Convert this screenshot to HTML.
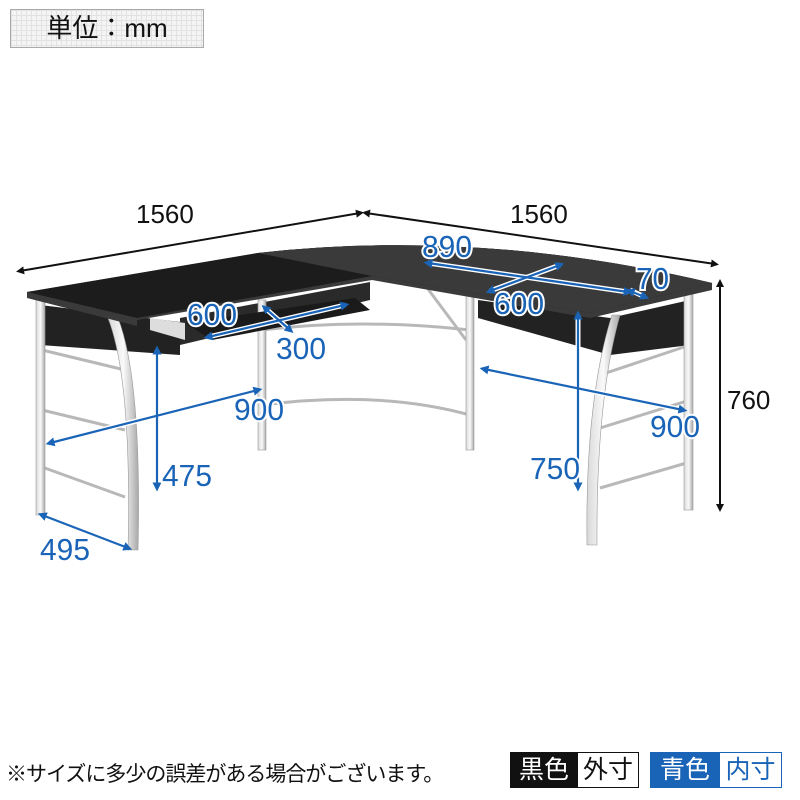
<!DOCTYPE html>
<html><head><meta charset="utf-8"><style>
html,body{margin:0;padding:0;background:#fff;}
body{width:800px;height:800px;position:relative;overflow:hidden;font-family:"Liberation Sans","Noto Sans CJK JP",sans-serif;}
.unit{position:absolute;left:10px;top:9px;width:192px;height:37px;border:1px solid #aaa;background:#f4f4f4;
background-image:linear-gradient(#e2e2e2 1px,transparent 1px),linear-gradient(90deg,#e2e2e2 1px,transparent 1px);background-size:5px 5px;
font-size:26px;line-height:37px;text-align:center;color:#111;}
.note{position:absolute;left:6px;top:758px;font-size:21px;color:#111;letter-spacing:-1px;}
.tag{position:absolute;top:752px;height:34px;font-size:25px;line-height:34px;}
</style></head><body>
<div class="unit">単位：mm</div>
<svg width="800" height="800" style="position:absolute;left:0;top:0">
<defs>
<marker id="ab" markerWidth="8" markerHeight="8" refX="4" refY="4" orient="auto-start-reverse" markerUnits="userSpaceOnUse"><path d="M0,0 L8,4 L0,8 z" fill="#111"/></marker>
<marker id="au" markerWidth="9" markerHeight="9" refX="4.5" refY="4.5" orient="auto-start-reverse" markerUnits="userSpaceOnUse"><path d="M0,0 L9,4.5 L0,9 z" fill="#1a64b8"/></marker>
<linearGradient id="chrome" x1="0" x2="1"><stop offset="0" stop-color="#d8d8d8"/><stop offset=".5" stop-color="#fafafa"/><stop offset="1" stop-color="#a8a8a8"/></linearGradient>
</defs>
<polygon points="40,305 180,322 180,355 40,345" fill="#222"/>
<polygon points="180,318 370,282 370,300 180,345" fill="#2a2a2a"/>
<polygon points="478,300 610,318 690,300 690,345 610,355 478,318" fill="#222"/>
<g stroke="#b8b8b8" stroke-width="3" fill="none">
<line x1="42" y1="350" x2="125" y2="370"/><line x1="42" y1="410" x2="125" y2="430"/><line x1="42" y1="467" x2="125" y2="497"/>
<path d="M262,330 Q360,318 470,330"/><path d="M262,405 Q380,390 470,415"/>
<line x1="600" y1="375" x2="690" y2="345"/><line x1="600" y1="428" x2="690" y2="400"/><line x1="600" y1="488" x2="690" y2="462"/>
<line x1="425" y1="285" x2="466" y2="340"/>
</g>
<g fill="url(#chrome)" stroke="#999" stroke-width="0.6">
<rect x="36" y="300" width="9" height="215"/>
<path d="M108,318 Q132,380 128,550 L138,550 Q142,380 118,318 z"/>
<rect x="258" y="300" width="8" height="150"/>
<rect x="466" y="295" width="8" height="155"/>
<path d="M612,315 Q585,400 587,545 L597,545 Q596,400 620,315 z"/>
<rect x="684" y="290" width="9" height="220"/>
</g>
<polygon points="185,323 355,298 370,310 212,340" fill="#1a1a1a"/>
<polygon points="150,318 185,323 185,340 150,330" fill="#ddd"/>
<path d="M27,292 L258,253 Q480,228 712,283 L712,290 L590,318 L372,280 L137,320 L137,326 L27,298 z" fill="#3a3a3a"/>
<path d="M27,292 L258,253 Q480,228 712,283 L590,313 L372,276 L137,318 z" fill="#1c1c1c"/>
<path d="M258,253 Q480,228 712,283 L590,313 L372,276 z" fill="#3a3a3a"/>
<g stroke="#111" stroke-width="2" fill="none">
<line x1="20" y1="271" x2="360" y2="213" marker-start="url(#ab)" marker-end="url(#ab)"/>
<line x1="366" y1="213" x2="715" y2="264" marker-start="url(#ab)" marker-end="url(#ab)"/>
<line x1="720" y1="283" x2="720" y2="508" marker-start="url(#ab)" marker-end="url(#ab)"/>
</g>
<g font-size="26" fill="#111" font-family="Liberation Sans, sans-serif">
<text x="136" y="223">1560</text><text x="510" y="223">1560</text><text x="727" y="409">760</text>
</g>
<g stroke="#fff" stroke-width="5" fill="none">
<line x1="208" y1="337" x2="345" y2="305"/><line x1="265" y1="308" x2="290" y2="330"/>
<line x1="50" y1="443" x2="258" y2="390"/><line x1="157" y1="350" x2="157" y2="487"/><line x1="42" y1="515" x2="128" y2="548"/>
<line x1="428" y1="263" x2="628" y2="292"/><line x1="490" y1="291" x2="560" y2="265"/><line x1="630" y1="290" x2="645" y2="297"/>
<line x1="484" y1="369" x2="683" y2="410"/><line x1="578" y1="315" x2="578" y2="487"/>
</g>
<g stroke="#1a64b8" stroke-width="2.2" fill="none">
<line x1="208" y1="337" x2="345" y2="305" marker-start="url(#au)" marker-end="url(#au)"/>
<line x1="265" y1="308" x2="290" y2="330" marker-start="url(#au)" marker-end="url(#au)"/>
<line x1="50" y1="443" x2="258" y2="390" marker-start="url(#au)" marker-end="url(#au)"/>
<line x1="157" y1="350" x2="157" y2="487" marker-start="url(#au)" marker-end="url(#au)"/>
<line x1="42" y1="515" x2="128" y2="548" marker-start="url(#au)" marker-end="url(#au)"/>
<line x1="428" y1="263" x2="628" y2="292" marker-start="url(#au)" marker-end="url(#au)"/>
<line x1="490" y1="291" x2="560" y2="265" marker-start="url(#au)" marker-end="url(#au)"/>
<line x1="630" y1="291" x2="645" y2="297" marker-start="url(#au)" marker-end="url(#au)"/>
<line x1="484" y1="369" x2="683" y2="410" marker-start="url(#au)" marker-end="url(#au)"/>
<line x1="578" y1="315" x2="578" y2="487" marker-start="url(#au)" marker-end="url(#au)"/>
</g>
<g font-size="31" fill="#1a64b8" stroke="#fff" stroke-width="4" paint-order="stroke" font-family="Liberation Sans, sans-serif" lengthAdjust="spacingAndGlyphs">
<text x="187" y="325" textLength="50" lengthAdjust="spacingAndGlyphs">600</text>
<text x="276" y="359" textLength="50" lengthAdjust="spacingAndGlyphs">300</text>
<text x="234" y="420" textLength="50" lengthAdjust="spacingAndGlyphs">900</text>
<text x="162" y="486" textLength="50" lengthAdjust="spacingAndGlyphs">475</text>
<text x="40" y="560" textLength="50" lengthAdjust="spacingAndGlyphs">495</text>
<text x="422" y="257" textLength="50" lengthAdjust="spacingAndGlyphs">890</text>
<text x="494" y="314" textLength="50" lengthAdjust="spacingAndGlyphs">600</text>
<text x="636" y="289" textLength="33" lengthAdjust="spacingAndGlyphs">70</text>
<text x="650" y="437" textLength="50" lengthAdjust="spacingAndGlyphs">900</text>
<text x="530" y="479" textLength="50" lengthAdjust="spacingAndGlyphs">750</text>
</g>
</svg>
<div class="note">※サイズに多少の誤差がある場合がございます。</div>
<div class="tag" style="left:510px;width:66px;background:#111;color:#fff;text-align:center;border:1px solid #111">黒色</div>
<div class="tag" style="left:577px;width:62px;background:#fff;color:#111;text-align:center;border:1px solid #111;box-sizing:border-box;height:36px">外寸</div>
<div class="tag" style="left:650px;width:68px;background:#1a64b8;color:#fff;text-align:center;border:1px solid #1a64b8">青色</div>
<div class="tag" style="left:719px;width:63px;background:#fff;color:#1a64b8;text-align:center;border:1px solid #1a64b8;box-sizing:border-box;height:36px">内寸</div>
</body></html>
